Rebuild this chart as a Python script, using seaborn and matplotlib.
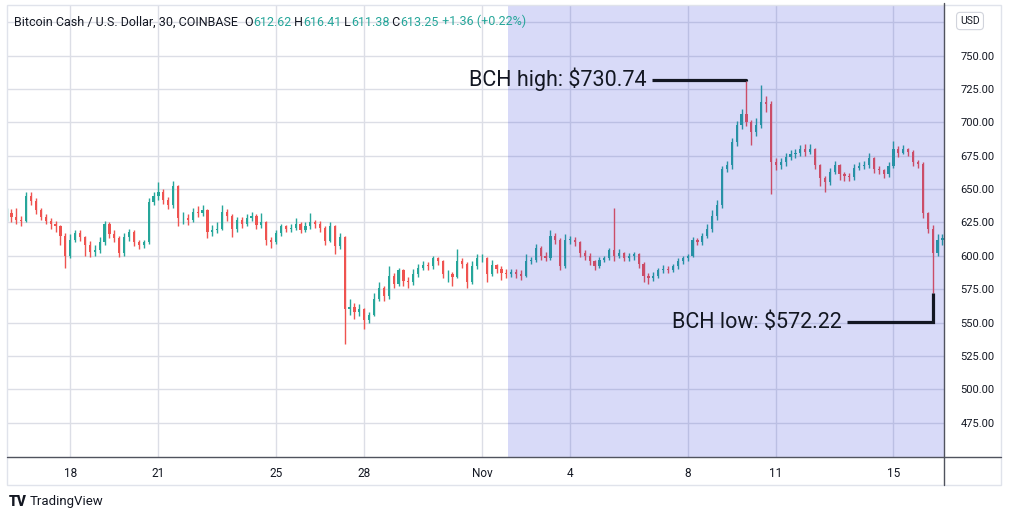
import matplotlib.pyplot as plt
import matplotlib.dates as mdates
import seaborn as sns
import pandas as pd
import numpy as np

# 4h candles, starting Oct 15 20:00
start = '2021-10-15 20:00'
first_open = 630

close = [632,
         629, 627, 626, 645, 641, 634,   # Oct 16
         629, 626, 624, 622, 615, 600,   # Oct 17
         612, 617, 614, 608, 603, 604,   # Oct 18
         610, 624, 616, 613, 602, 614,   # Oct 19
         618, 610, 608, 610, 640, 645,   # Oct 20
         648, 642, 638, 652, 628, 628,   # Oct 21
         627, 633, 632, 634, 618, 619,   # Oct 22
         620, 633, 630, 620, 627, 624,   # Oct 23
         628, 630, 623, 625, 612, 610,   # Oct 24
         617, 622, 620, 621, 624, 619,   # Oct 25
         622, 625, 624, 621, 611, 622,   # Oct 26
         607, 614, 560, 562, 558, 560,   # Oct 27
         552, 556, 568, 576, 570, 585,   # Oct 28
         579, 589, 581, 580, 586, 591,   # Oct 29
         593, 592, 598, 596, 586, 586,   # Oct 30
         584, 596, 594, 580, 592, 598,   # Oct 31
         598, 586, 593, 590, 587, 586,   # Nov 1
         588, 586, 585, 596, 597, 606,   # Nov 2
         600, 598, 615, 612, 592, 612,   # Nov 3
         612, 610, 602, 600, 596, 592,   # Nov 4
         597, 598, 604, 600, 602, 598,   # Nov 5
         600, 601, 594, 585, 583, 585,   # Nov 6
         589, 590, 589, 592, 596, 598,   # Nov 7
         600, 612, 610, 615, 620, 630,   # Nov 8
         638, 665, 668, 685, 698, 706,   # Nov 9
         700, 693, 698, 715, 714, 670,   # Nov 10
         668, 670, 674, 676, 677, 680,   # Nov 11
         678, 680, 668, 658, 655, 663,   # Nov 12
         668, 661, 660, 659, 666, 667,   # Nov 13
         668, 673, 665, 664, 661, 667,   # Nov 14
         680, 677, 680, 678, 670, 669,   # Nov 15
         632, 620, 602, 612, 613.25]     # Nov 16

high = [636,
        635, 636, 630, 648, 648, 643,
        636, 631, 628, 626, 623, 617,
        616, 619, 619, 615, 611, 608,
        614, 626, 625, 619, 615, 617,
        620, 619, 612, 612, 643, 648,
        655, 650, 644, 656, 653, 633,
        631, 636, 637, 638, 635, 623,
        625, 638, 635, 631, 629, 629,
        631, 633, 631, 632, 626, 614,
        619, 624, 623, 624, 628, 625,
        625, 632, 627, 626, 622, 625,
        623, 617, 615, 568, 565, 564,
        561, 558, 572, 580, 577, 592,
        587, 591, 590, 584, 590, 594,
        596, 595, 600, 599, 597, 589,
        588, 605, 598, 595, 596, 601,
        601, 599, 597, 594, 592, 590,
        590, 590, 589, 601, 599, 609,
        607, 603, 619, 617, 613, 616,
        615, 614, 611, 604, 602, 597,
        599, 600, 606, 636, 605, 603,
        602, 603, 602, 595, 587, 588,
        591, 593, 592, 594, 598, 600,
        601, 614, 613, 617, 624, 634,
        642, 667, 671, 688, 701, 710,
        730.74, 702, 703, 728, 720, 716,
        673, 673, 677, 679, 680, 683,
        684, 684, 681, 669, 660, 666,
        671, 669, 663, 662, 669, 670,
        671, 677, 674, 667, 665, 670,
        686, 682, 683, 681, 679, 672,
        670, 633, 623, 616, 616.41]

low = [626,
       625, 624, 622, 625, 638, 631,
       627, 624, 620, 618, 608, 591,
       598, 610, 611, 600, 599, 600,
       602, 608, 613, 610, 599, 600,
       611, 607, 605, 606, 609, 638,
       642, 639, 635, 636, 622, 624,
       623, 625, 629, 630, 613, 615,
       617, 619, 626, 614, 618, 621,
       622, 626, 620, 621, 608, 606,
       609, 615, 618, 618, 619, 617,
       618, 620, 621, 618, 608, 610,
       601, 605, 534, 556, 553, 555,
       545, 550, 555, 566, 566, 568,
       576, 577, 577, 576, 578, 584,
       589, 589, 590, 593, 583, 580,
       577, 583, 591, 576, 579, 590,
       595, 580, 585, 587, 582, 583,
       584, 583, 582, 584, 594, 595,
       597, 596, 597, 609, 589, 591,
       609, 607, 599, 597, 593, 589,
       591, 595, 597, 596, 598, 596,
       596, 597, 591, 580, 579, 581,
       583, 587, 587, 588, 590, 594,
       596, 599, 608, 608, 613, 618,
       627, 636, 663, 665, 682, 695,
       697, 683, 690, 696, 708, 646,
       664, 665, 667, 672, 673, 675,
       675, 676, 665, 652, 648, 653,
       661, 657, 656, 656, 657, 664,
       665, 666, 662, 661, 658, 659,
       666, 674, 676, 675, 667, 666,
       628, 617, 572.22, 600, 608]

x_ticks = ['2021-10-18', '2021-10-21', '2021-10-25', '2021-10-28', '2021-11-01',
           '2021-11-04', '2021-11-08', '2021-11-11', '2021-11-15']
x_labels = ['18', '21', '25', '28', 'Nov', '4', '8', '11', '15']
y_ticks = [475, 500, 525, 550, 575, 600, 625, 650, 675, 700, 725, 750, 775]

x_start = '2021-10-15 20:20'
x_end = '2021-11-16 17:15'
shade_start = '2021-11-01 21:00'
high_line_start = '2021-11-06 19:00'
low_line_end = '2021-11-13 10:00'
high_line_y = 732
low_line_y = 550.2

UP = '#26a69a'
DOWN = '#ef5350'
TEXT = '#131722'

df = pd.DataFrame({'time': pd.date_range(start, periods=len(close), freq='4h'),
                   'close': close, 'high': high, 'low': low})
df['open'] = df['close'].shift(1).fillna(first_open)
df['x'] = mdates.date2num(df['time'])
df['color'] = np.where(df['close'] >= df['open'], UP, DOWN)
body = df['close'] - df['open']
body = np.where(body.abs() < 0.6, 0.6, body)

sns.set_theme(style='white')
plt.rcParams['font.family'] = ['Roboto', 'DejaVu Sans']

fig = plt.figure(figsize=(10.09, 5.2), dpi=100)
ax = fig.add_axes([7 / 1009, 1 - 457 / 520, 937 / 1009, 452 / 520])

ax.vlines(df['x'], df['low'], df['high'], colors=df['color'], lw=1, zorder=3)
ax.bar(df['x'], body, bottom=df['open'], width=0.075, color=df['color'], lw=0, zorder=3)

ax.axvspan(mdates.date2num(pd.Timestamp(shade_start)), mdates.date2num(pd.Timestamp(x_end)),
           color=(0.16, 0.2, 0.85), alpha=0.18, lw=0, zorder=6)

ax.set_xlim(mdates.date2num(pd.Timestamp(x_start)), mdates.date2num(pd.Timestamp(x_end)))
ax.set_ylim(449.2, 788)
ax.set_xticks(mdates.date2num(pd.to_datetime(x_ticks)))
ax.set_xticklabels(x_labels, fontsize=8.5, color=TEXT)
ax.yaxis.tick_right()
ax.set_yticks(y_ticks)
ax.set_yticklabels([f'{v:.2f}' if v < 775 else '' for v in y_ticks], fontsize=8, color=TEXT)
ax.tick_params(axis='x', length=0, pad=7)
ax.tick_params(axis='y', length=0, pad=12)
ax.grid(True, color='#dcdee6', lw=1, zorder=0)
for s in ax.spines.values():
    s.set_visible(False)

# annotations tied to the extreme candles inside the shaded range
rng = df[df['time'] >= pd.Timestamp(shade_start)]
hi = rng.loc[rng['high'].idxmax()]
lo = rng.loc[rng['low'].idxmin()]
hx0 = mdates.date2num(pd.Timestamp(high_line_start))
lx0 = mdates.date2num(pd.Timestamp(low_line_end))
ax.plot([hx0, hi['x'], hi['x']], [high_line_y, high_line_y, hi['high']], color=TEXT, lw=2.3, zorder=8,
        solid_capstyle='butt')
ax.plot([lo['x'], lo['x'], lx0], [lo['low'], low_line_y, low_line_y], color=TEXT, lw=2.3, zorder=8,
        solid_capstyle='butt', solid_joinstyle='miter')
ax.annotate(f"BCH high: ${hi['high']:.2f}", xy=(hx0, high_line_y), xytext=(-4, 0), textcoords='offset points',
            ha='right', va='center', fontsize=15.5, color=TEXT, zorder=9)
ax.annotate(f"BCH low: ${lo['low']:.2f}", xy=(lx0, low_line_y), xytext=(-4, 0), textcoords='offset points',
            ha='right', va='center', fontsize=15.5, color=TEXT, zorder=9)

# legend line at the top
parts = [('Bitcoin Cash / U.S. Dollar, 30, COINBASE  ', TEXT), ('O', TEXT), ('612.62', UP),
         (' H', TEXT), ('616.41', UP), (' L', TEXT), ('611.38', UP), (' C', TEXT), ('613.25', UP),
         (' +1.36 (+0.22%)', UP)]
t = ax.text(7 / 937, 1 - 17 / 452, parts[0][0], transform=ax.transAxes, fontsize=9, color=parts[0][1],
            va='center', ha='left', zorder=9)
for s, c in parts[1:]:
    t = ax.annotate(s, xy=(1, 0), xycoords=t, va='bottom', ha='left', fontsize=9, color=c, zorder=9)

# frame lines
fig.add_artist(plt.Line2D([7 / 1009, 1001 / 1009], [1 - 457 / 520] * 2, color='#50535e', lw=1))
fig.add_artist(plt.Line2D([944 / 1009] * 2, [1 - 3 / 520, 1 - 485 / 520], color='#50535e', lw=1))
fig.add_artist(plt.Rectangle((7 / 1009, 1 - 485 / 520), 994 / 1009, 480 / 520, fill=False,
                             ec='#e0e3eb', lw=1))

fig.text(970 / 1009, 1 - 21 / 520, 'USD', fontsize=7.5, color=TEXT, ha='center', va='center',
         bbox=dict(boxstyle='round,pad=0.35', fc='white', ec='#d1d4dc', lw=0.8))

fig.text(9 / 1009, 1 - 502 / 520, 'TV', fontsize=10, fontweight='black', color=TEXT, va='center')
fig.text(30 / 1009, 1 - 502 / 520, 'TradingView', fontsize=9.5, color=TEXT, va='center')

plt.savefig('out.png', dpi=100)
